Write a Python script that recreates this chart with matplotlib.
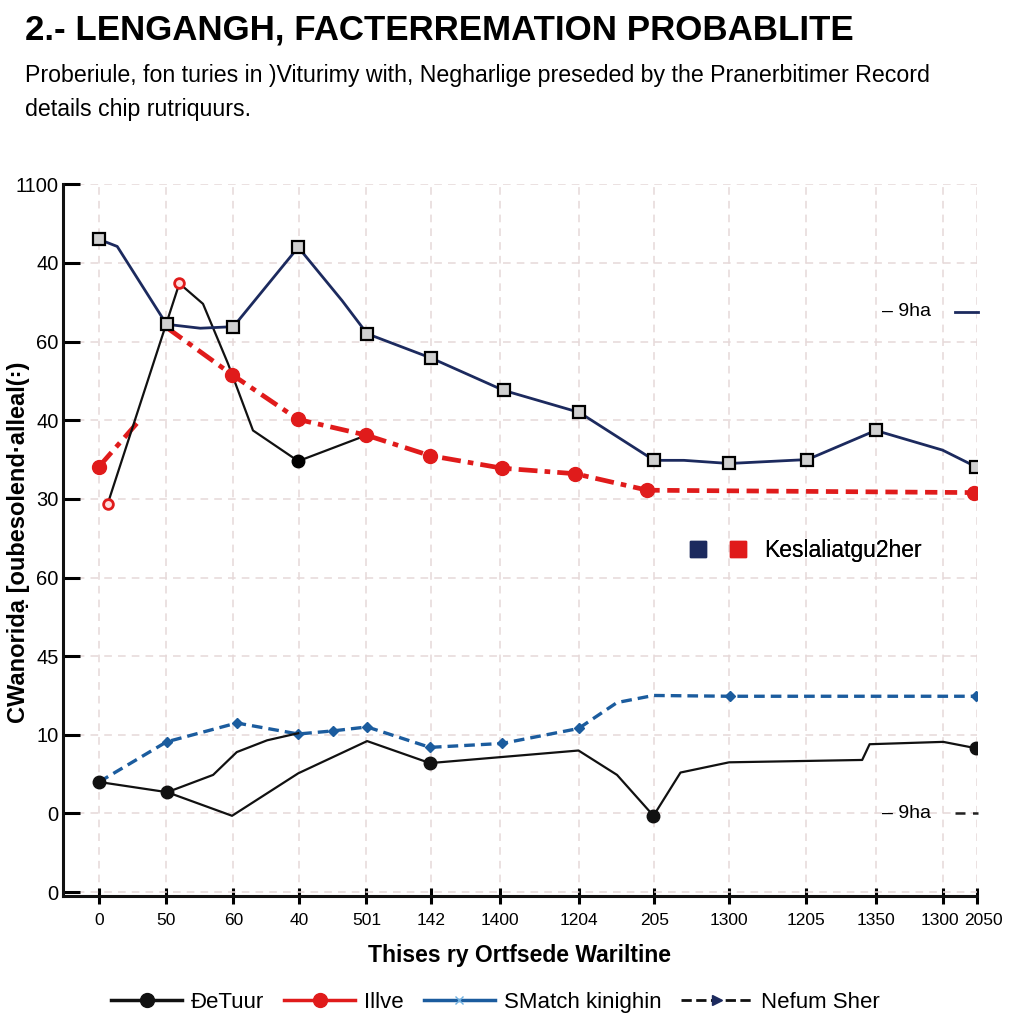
import matplotlib
matplotlib.use("Agg")
import matplotlib.pyplot as plt
import matplotlib.transforms as mtransforms
import numpy as np
from matplotlib.lines import Line2D
from matplotlib.legend_handler import HandlerTuple

plt.rcParams['font.family'] = ['Liberation Sans', 'DejaVu Sans']

# ---------------- data ----------------
x_tick_pos = [0, 0.99, 1.99, 2.96, 3.96, 4.92, 5.93, 7.1, 8.22, 9.33, 10.47, 11.5, 12.49, 13.0]
x_tick_labels = ["0", "50", "60", "40", "501", "142", "1400", "1204", "205", "1300", "1205", "1350", "1300", "2050"]
y_tick_pos = [0, 1, 2, 3, 4, 5, 6, 7, 8, 9]
y_tick_labels = ["0", "0", "10", "45", "60", "30", "40", "60", "40", "1100"]

navy_x = [0, 0.27, 1.0, 1.5, 1.99, 2.95, 3.6, 3.97, 4.92, 5.99, 7.11, 8.22, 8.66, 9.33, 10.49, 11.5, 12.49, 12.98]
navy_y = [8.30, 8.21, 7.22, 7.17, 7.19, 8.20, 7.52, 7.10, 6.79, 6.38, 6.10, 5.49, 5.49, 5.45, 5.50, 5.87, 5.62, 5.41]
navy_marks = [0, 2, 4, 5, 7, 8, 9, 10, 11, 13, 14, 15, 17]

red_x = [0, 0.56, np.nan, 1.0, 1.97, 2.95, 3.96, 4.90, 5.97, 7.05, 8.12, 12.95]
red_y = [5.41, 5.96, np.nan, 7.18, 6.58, 6.01, 5.81, 5.55, 5.39, 5.32, 5.11, 5.08]
red_marks = [0, 4, 5, 6, 7, 8, 9, 10, 11]

upper_black_x = [0.13, 1.19, 1.54, 1.91, 2.28, 2.95, 3.87]
upper_black_y = [4.94, 7.74, 7.48, 6.72, 5.87, 5.48, 5.78]
upper_black_red_marks = [0, 1]
upper_black_marks = [5]

blue_x = [0, 1.0, 2.04, 2.95, 3.47, 3.97, 4.90, 5.97, 7.10, 7.67, 8.21, 9.35, 12.98]
blue_y = [1.40, 1.91, 2.15, 2.01, 2.05, 2.10, 1.84, 1.89, 2.08, 2.41, 2.50, 2.49, 2.49]
blue_marks = [0, 1, 2, 3, 4, 5, 6, 7, 8, 11, 12]

lowA_x = [0, 1.01, 1.97, 2.95, 3.97, 4.90, 7.10, 7.67, 8.21, 8.61, 9.33, 11.30, 11.41, 12.50, 12.98]
lowA_y = [1.40, 1.27, 0.97, 1.51, 1.92, 1.64, 1.80, 1.49, 0.97, 1.52, 1.65, 1.68, 1.88, 1.91, 1.83]
lowA_marks = [0, 1, 5, 8, 14]

lowB_x = [1.01, 1.69, 2.04, 2.49, 2.95]
lowB_y = [1.27, 1.49, 1.78, 1.93, 2.02]

legend_labels = ["ÐeTuur", "Illve", "SMatch kinighin", "Nefum Sher"]
inner_label = "Keslaliatgu2her"

NAVY = "#1c2a5e"
RED = "#e01b1b"
BLUE = "#1b5c9e"

fig = plt.figure(figsize=(10.24, 10.24), dpi=100)
fig.patch.set_facecolor("white")
ax = fig.add_axes([63 / 1024, 0.125, (977 - 63) / 1024, 0.695])
ax.set_xlim(-0.533, 13.0)
ax.set_ylim(-0.05, 9.0)

ax.grid(True, ls=(0, (5, 4)), color="#e6d8d8", lw=1.1)
ax.set_axisbelow(True)

# navy
ax.plot(navy_x, navy_y, color=NAVY, lw=2.0, marker="s", ms=8.5, mfc="#d0d0d0",
        mec="black", mew=1.6, markevery=navy_marks, zorder=4)

# red (dash-dot part, then dashed part)
ax.plot(red_x[:-1], red_y[:-1], color=RED, lw=3.4, dashes=(4, 1.5, 1.2, 1.5), zorder=3)
ax.plot(red_x[-2:], red_y[-2:], color=RED, lw=3.4, dashes=(2.6, 1.6), zorder=3)
ax.plot(red_x, red_y, ls="none", marker="o", ms=10, color=RED, markevery=red_marks, zorder=5)

# upper black line
ax.plot(upper_black_x, upper_black_y, color="#111111", lw=1.6, zorder=3.5)
ax.plot(upper_black_x, upper_black_y, ls="none", marker="o", ms=7, mfc="#ffdede", mec=RED, mew=2,
        markevery=upper_black_red_marks, zorder=5)
ax.plot(upper_black_x, upper_black_y, ls="none", marker="o", ms=9, color="black",
        markevery=upper_black_marks, zorder=5)

# blue dashed
ax.plot(blue_x, blue_y, color=BLUE, lw=2.4, dashes=(3.2, 1.8), marker="D", ms=5.5,
        markevery=blue_marks, zorder=3)

# lower black lines
ax.plot(lowA_x, lowA_y, color="#111111", lw=1.6, marker="o", ms=9, markevery=lowA_marks, zorder=4)
ax.plot(lowB_x, lowB_y, color="#111111", lw=1.6, zorder=4)

# axes styling
for s in ["top", "right"]:
    ax.spines[s].set_visible(False)
for s in ["left", "bottom"]:
    ax.spines[s].set_linewidth(2.2)
    ax.spines[s].set_color("#111111")
ax.set_yticks(y_tick_pos)
ax.set_yticklabels(y_tick_labels)
ax.set_xticks(x_tick_pos)
ax.set_xticklabels(x_tick_labels)
ax.tick_params(axis="y", direction="in", length=12, width=2.2, labelsize=14.5, pad=3)
ax.tick_params(axis="x", direction="inout", length=12, width=2.2, labelsize=12.5, pad=6)

# nudge the two crowded last x labels apart
xlabels = ax.get_xticklabels()
xlabels[-2].set_transform(xlabels[-2].get_transform() +
                          mtransforms.ScaledTranslation(-3 / 100, 0, fig.dpi_scale_trans))
xlabels[-1].set_transform(xlabels[-1].get_transform() +
                          mtransforms.ScaledTranslation(6 / 100, 0, fig.dpi_scale_trans))

ax.set_xlabel("Thises ry Ortfsede Wariltine", fontsize=16.5, fontweight="bold", labelpad=12)
fig.text(0.018, 0.47, "CWanoridạ [oubesolend·alleal(꞉)", rotation=90, fontsize=17,
         fontweight="bold", ha="center", va="center")

# title and subtitle
t_title = fig.text(0.024, 0.971, "2.- LENGANGH, FACTERREMATION PROBABLITE", fontsize=30,
                   fontweight="bold", ha="left", va="center")
t_sub1 = fig.text(0.024, 0.926, "Proberiule, fon turies in )Viturimy with, Negharlige preseded by the Pranerbitimer Record",
                  fontsize=18, ha="left", va="center")
t_sub2 = fig.text(0.024, 0.893, "details chip rutriquurs.", fontsize=18, ha="left", va="center")

renderer = fig.canvas.get_renderer()
def fit_width(t, target_px):
    w = t.get_window_extent(renderer=renderer).width
    return t.get_fontsize() * target_px / w

t_title.set_fontsize(fit_width(t_title, 827))
sub_size = fit_width(t_sub1, 905)
t_sub1.set_fontsize(sub_size)
t_sub2.set_fontsize(sub_size)

# inner legend with two squares
h_inner = (Line2D([], [], ls="none", marker="s", ms=11, color=NAVY),
           Line2D([], [], ls="none", marker="s", ms=11, color=RED))
leg_in = ax.legend([h_inner], [inner_label], handler_map={tuple: HandlerTuple(ndivide=None, pad=0.9)},
                   loc="center", bbox_to_anchor=(0.812, 0.486), frameon=False, fontsize=16.5,
                   handlelength=2.6, handletextpad=0.7)
ax.add_artist(leg_in)

# "9ha" annotations
fig.text(906 / 1024, 1 - 312 / 1024, "– 9ha", fontsize=14, ha="center", va="center")
fig.add_artist(Line2D([955 / 1024, 978 / 1024], [1 - 312 / 1024] * 2, color=NAVY, lw=2,
                      transform=fig.transFigure))
fig.text(906 / 1024, 1 - 813 / 1024, "– 9ha", fontsize=14, ha="center", va="center")
fig.add_artist(Line2D([955 / 1024, 978 / 1024], [1 - 813 / 1024] * 2, color="#222222", lw=1.8,
                      dashes=(4, 3), transform=fig.transFigure))

# bottom legend
handles = [
    Line2D([], [], color="#111111", lw=2.5, marker="o", ms=10),
    Line2D([], [], color=RED, lw=2.5, marker="o", ms=10),
    Line2D([], [], color=BLUE, lw=2.5, marker="x", ms=6, mec="#6fb0e0"),
    Line2D([], [], color="#111111", lw=2.0, ls="--", marker=">", ms=7, mfc=NAVY, mec=NAVY),
]
fig.legend(handles, legend_labels, loc="center", bbox_to_anchor=(0.484, 0.021), ncol=4,
           frameon=False, fontsize=16, handlelength=3.2, handletextpad=0.4, columnspacing=0.9)

fig.savefig("out.png", dpi=100, facecolor="white")
